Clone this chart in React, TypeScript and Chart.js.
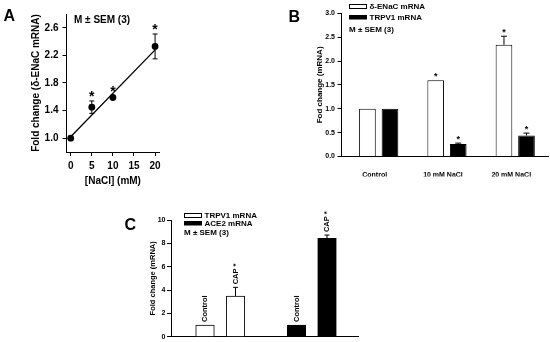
import React, { useEffect, useRef } from 'react';
import { Chart, registerables } from 'chart.js';

Chart.register(...registerables);

const FONT = "'Liberation Sans', Arial, Helvetica, sans-serif";
Chart.defaults.font.family = FONT;
Chart.defaults.color = '#000';

// ---------- Panel A data ----------
const aNaCl = [0, 5, 10, 20];
const aFold = [1.0, 1.45, 1.59, 2.33];
const aSem = [0, 0.09, 0.02, 0.18];
const aSig = [false, true, true, true];
const aFitX = [0, 20];
const aFitY = [1.02, 2.28];
const aXTicks = [0, 5, 10, 15, 20];
const aYTicks = [1.0, 1.4, 1.8, 2.2, 2.6];

// ---------- Panel B data ----------
const bCategories = ['Control', '10 mM NaCl', '20 mM NaCl'];
const bENaC = [1.0, 1.6, 2.34];
const bENaCSem = [0, 0, 0.18];
const bENaCSig = [false, true, true];
const bTRPV1 = [1.0, 0.26, 0.44];
const bTRPV1Sem = [0, 0.02, 0.05];
const bTRPV1Sig = [false, true, true];
const bYTicks = [0, 0.5, 1.0, 1.5, 2.0, 2.5, 3.0];

// ---------- Panel C data ----------
const cConditions = ['Control', 'CAP'];
const cTRPV1 = [1.0, 3.49];
const cTRPV1Sem = [0, 0.74];
const cACE2 = [1.0, 8.43];
const cACE2Sem = [0, 0.28];
const cSig = [false, true];
const cYTicks = [0, 2, 4, 6, 8, 10];

const GROUP_STRIDE = 3;

const bold = (size: number, lineHeight?: number) =>
  lineHeight ? { size, weight: 'bold' as const, lineHeight } : { size, weight: 'bold' as const };

// error bars + asterisks drawn from dataset values through the y scale
const errorBarPlugin = {
  id: 'errorBars',
  afterDatasetsDraw(chart: any) {
    const ctx = chart.ctx;
    const yScale = chart.scales.y;
    chart.data.datasets.forEach((ds: any, di: number) => {
      if (!ds.sem) return;
      const meta = chart.getDatasetMeta(di);
      meta.data.forEach((el: any, i: number) => {
        const val = ds.data[i].y;
        const e = ds.sem[i] || 0;
        const x = el.x;
        const yTop = yScale.getPixelForValue(val + e);
        ctx.save();
        ctx.strokeStyle = '#000';
        ctx.lineWidth = 1;
        if (e > 0) {
          const yBot = ds.errMode === 'both' ? yScale.getPixelForValue(val - e) : yScale.getPixelForValue(val);
          const cw = ds.capWidth / 2;
          ctx.beginPath();
          ctx.moveTo(x, yBot);
          ctx.lineTo(x, yTop);
          ctx.moveTo(x - cw, yTop);
          ctx.lineTo(x + cw, yTop);
          if (ds.errMode === 'both') {
            ctx.moveTo(x - cw, yBot);
            ctx.lineTo(x + cw, yBot);
          }
          ctx.stroke();
        }
        if (ds.sig && ds.sig[i]) {
          ctx.fillStyle = '#000';
          ctx.font = `bold ${ds.starSize}px ${FONT}`;
          ctx.textAlign = 'center';
          ctx.textBaseline = 'alphabetic';
          ctx.fillText('*', x, yTop - ds.starGap);
        }
        ctx.restore();
      });
    });
  },
};

function drawText(ctx: any, text: string, x: number, y: number, size: number, baseline = 'middle') {
  ctx.font = `bold ${size}px ${FONT}`;
  ctx.fillStyle = '#000';
  ctx.textAlign = 'left';
  ctx.textBaseline = baseline;
  ctx.fillText(text, x, y);
}

function legendPlugin(id: string, letter: any, items: any[], note: any) {
  return {
    id,
    afterDraw(chart: any) {
      const ctx = chart.ctx;
      ctx.save();
      drawText(ctx, letter.text, letter.x, letter.y, 16, 'alphabetic');
      items.forEach((it) => {
        if (it.filled) {
          ctx.fillStyle = '#000';
          ctx.fillRect(it.x, it.y, 18, 4.5);
        } else {
          ctx.strokeStyle = '#000';
          ctx.lineWidth = 1;
          ctx.strokeRect(it.x + 0.5, it.y + 0.5, 17, 4);
        }
        drawText(ctx, it.label, it.x + 20.5, it.ty, 8);
      });
      drawText(ctx, 'M ± SEM (3)', note.x, note.y, note.size);
      ctx.restore();
    },
  };
}

const rotatedLabelPlugin = {
  id: 'rotLabels',
  afterDraw(chart: any) {
    const ctx = chart.ctx;
    const yScale = chart.scales.y;
    chart.data.datasets.forEach((ds: any, di: number) => {
      const meta = chart.getDatasetMeta(di);
      meta.data.forEach((el: any, i: number) => {
        const val = ds.data[i].y;
        const e = ds.sem[i] || 0;
        const y = yScale.getPixelForValue(val + e) - 3;
        const text = cConditions[i] + (cSig[i] ? ' *' : '');
        ctx.save();
        ctx.translate(el.x, y);
        ctx.rotate(-Math.PI / 2);
        ctx.font = `bold 7.5px ${FONT}`;
        ctx.fillStyle = '#000';
        ctx.textAlign = 'left';
        ctx.textBaseline = 'middle';
        ctx.fillText(text, 0, 0);
        ctx.restore();
      });
    });
  },
};

const axisGrid = { display: true, drawOnChartArea: false, drawTicks: true, tickLength: 4, color: '#000', lineWidth: 1 };
const axisBorder = { display: true, color: '#000', width: 1 };

function configA(): any {
  return {
    type: 'scatter',
    data: {
      datasets: [
        {
          label: 'δ-ENaC mRNA',
          data: aNaCl.map((x, i) => ({ x, y: aFold[i] })),
          backgroundColor: '#000',
          borderColor: '#000',
          pointRadius: 3.4,
          pointBorderWidth: 0,
          sem: aSem,
          errMode: 'both',
          sig: aSig,
          capWidth: 5,
          starGap: 0,
          starSize: 14,
        },
        {
          label: 'fit',
          data: aFitX.map((x, i) => ({ x, y: aFitY[i] })),
          showLine: true,
          borderColor: '#000',
          borderWidth: 1.3,
          pointRadius: 0,
          fill: false,
        },
      ],
    },
    options: {
      animation: false,
      responsive: false,
      devicePixelRatio: 1,
      events: [],
      layout: { padding: { left: 24, top: 14, right: 390.7, bottom: 150 } },
      plugins: { legend: { display: false }, tooltip: { enabled: false } },
      scales: {
        x: {
          type: 'linear',
          min: -1,
          max: 21,
          afterBuildTicks: (s: any) => { s.ticks = aXTicks.map((v) => ({ value: v })); },
          afterFit: (s: any) => { s.height = 40; },
          ticks: { font: bold(10), color: '#000', padding: 4, callback: (v: any) => String(v) },
          grid: axisGrid,
          border: axisBorder,
          title: { display: true, text: '[NaCl] (mM)', font: bold(10), color: '#000', padding: { top: 0, bottom: 4.3 } },
        },
        y: {
          type: 'linear',
          min: 0.8,
          max: 2.8,
          afterBuildTicks: (s: any) => { s.ticks = aYTicks.map((v) => ({ value: v })); },
          afterFit: (s: any) => { s.width = 42.5; },
          ticks: { font: bold(10), color: '#000', padding: 4, callback: (v: any) => Number(v).toFixed(1) },
          grid: axisGrid,
          border: axisBorder,
          title: { display: true, text: 'Fold change (δ-ENaC mRNA)', font: bold(10), color: '#000', padding: { top: 6, bottom: 0 } },
        },
      },
    },
    plugins: [
      errorBarPlugin,
      legendPlugin('notesA', { text: 'A', x: 3.5, y: 21 }, [], { x: 74, y: 20.5, size: 10 }),
    ],
  };
}

function configB(): any {
  return {
    type: 'bar',
    data: {
      datasets: [
        {
          label: 'δ-ENaC mRNA',
          data: bENaC.map((y, i) => ({ x: i, y })),
          backgroundColor: '#fff',
          borderColor: '#000',
          borderWidth: 1,
          categoryPercentage: 0.66,
          barPercentage: 0.74,
          sem: bENaCSem,
          errMode: 'up',
          sig: bENaCSig,
          capWidth: 6,
          starGap: 1.5,
          starSize: 9,
        },
        {
          label: 'TRPV1 mRNA',
          data: bTRPV1.map((y, i) => ({ x: i, y })),
          backgroundColor: '#000',
          borderColor: '#000',
          borderWidth: 1,
          categoryPercentage: 0.66,
          barPercentage: 0.74,
          sem: bTRPV1Sem,
          errMode: 'up',
          sig: bTRPV1Sig,
          capWidth: 6,
          starGap: 1.5,
          starSize: 9,
        },
      ],
    },
    options: {
      animation: false,
      responsive: false,
      devicePixelRatio: 1,
      events: [],
      layout: { padding: { left: 310, top: 13.3, right: 2, bottom: 165.5 } },
      plugins: { legend: { display: false }, tooltip: { enabled: false } },
      scales: {
        x: {
          type: 'linear',
          min: -0.545,
          max: 2.48,
          offset: false,
          afterBuildTicks: (s: any) => { s.ticks = bCategories.map((_, i) => ({ value: i })); },
          afterFit: (s: any) => { s.height = 20; },
          ticks: {
            font: bold(7),
            color: '#000',
            padding: 6,
            labelOffset: -4,
            maxRotation: 0,
            autoSkip: false,
            callback: (v: any) => bCategories[Math.round(Number(v))],
          },
          grid: { display: false },
          border: axisBorder,
        },
        y: {
          type: 'linear',
          min: 0,
          max: 3,
          afterBuildTicks: (s: any) => { s.ticks = bYTicks.map((v) => ({ value: v })); },
          afterFit: (s: any) => { s.width = 31.5; },
          ticks: { font: bold(7), color: '#000', padding: 2.5, callback: (v: any) => Number(v).toFixed(1) },
          grid: axisGrid,
          border: axisBorder,
          title: { display: true, text: 'Fod change (mRNA)', font: bold(8), color: '#000', padding: { top: 5.2, bottom: 0 } },
        },
      },
    },
    plugins: [
      errorBarPlugin,
      legendPlugin(
        'notesB',
        { text: 'B', x: 288.5, y: 21.7 },
        [
          { x: 349, y: 4, ty: 6.3, label: 'δ-ENaC mRNA', filled: false },
          { x: 349, y: 15, ty: 17.3, label: 'TRPV1 mRNA', filled: true },
        ],
        { x: 349, y: 29.3, size: 8 }
      ),
    ],
  };
}

function configC(): any {
  return {
    type: 'bar',
    data: {
      datasets: [
        {
          label: 'TRPV1 mRNA',
          data: cTRPV1.map((y, ci) => ({ x: 0 * GROUP_STRIDE + ci, y })),
          backgroundColor: '#fff',
          borderColor: '#000',
          borderWidth: 1,
          grouped: false,
          barThickness: 18.6,
          sem: cTRPV1Sem,
          errMode: 'up',
          capWidth: 5,
        },
        {
          label: 'ACE2 mRNA',
          data: cACE2.map((y, ci) => ({ x: 1 * GROUP_STRIDE + ci, y })),
          backgroundColor: '#000',
          borderColor: '#000',
          borderWidth: 1,
          grouped: false,
          barThickness: 18.6,
          sem: cACE2Sem,
          errMode: 'up',
          capWidth: 5,
        },
      ],
    },
    options: {
      animation: false,
      responsive: false,
      devicePixelRatio: 1,
      events: [],
      layout: { padding: { left: 140, top: 220, right: 192, bottom: 5.3 } },
      plugins: { legend: { display: false }, tooltip: { enabled: false } },
      scales: {
        x: {
          type: 'linear',
          min: -1.115,
          max: 5.016,
          offset: false,
          afterBuildTicks: (s: any) => { s.ticks = []; },
          afterFit: (s: any) => { s.height = 0; },
          ticks: { display: false },
          grid: { display: false },
          border: axisBorder,
        },
        y: {
          type: 'linear',
          min: 0,
          max: 10,
          afterBuildTicks: (s: any) => { s.ticks = cYTicks.map((v) => ({ value: v })); },
          afterFit: (s: any) => { s.width = 31; },
          ticks: { font: bold(7, 1), color: '#000', padding: 1.5, callback: (v: any) => String(v) },
          grid: axisGrid,
          border: axisBorder,
          title: { display: true, text: 'Fold change (mRNA)', font: bold(7.5), color: '#000', padding: { top: 8.5, bottom: 0 } },
        },
      },
    },
    plugins: [
      errorBarPlugin,
      rotatedLabelPlugin,
      legendPlugin(
        'notesC',
        { text: 'C', x: 124.5, y: 230 },
        [
          { x: 184, y: 213, ty: 215.5, label: 'TRPV1 mRNA', filled: false },
          { x: 184, y: 221, ty: 223.5, label: 'ACE2 mRNA', filled: true },
        ],
        { x: 184, y: 232.5, size: 8 }
      ),
    ],
  };
}

export default function App() {
  const aRef = useRef<HTMLCanvasElement>(null);
  const bRef = useRef<HTMLCanvasElement>(null);
  const cRef = useRef<HTMLCanvasElement>(null);

  useEffect(() => {
    const charts = [
      new Chart(aRef.current as HTMLCanvasElement, configA()),
      new Chart(bRef.current as HTMLCanvasElement, configB()),
      new Chart(cRef.current as HTMLCanvasElement, configC()),
    ];
    return () => charts.forEach((c) => c.destroy());
  }, []);

  const canvasStyle: React.CSSProperties = { position: 'absolute', left: 0, top: 0 };
  return (
    <div style={{ position: 'fixed', left: 0, top: 0, width: 550, height: 342, background: '#fff', overflow: 'hidden' }}>
      <canvas ref={aRef} width={550} height={342} style={canvasStyle} />
      <canvas ref={bRef} width={550} height={342} style={canvasStyle} />
      <canvas ref={cRef} width={550} height={342} style={canvasStyle} />
    </div>
  );
}
